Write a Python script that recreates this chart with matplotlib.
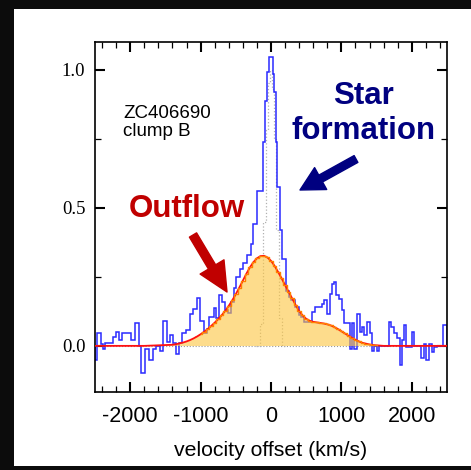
import numpy as np
import matplotlib
matplotlib.use("Agg")
import matplotlib.pyplot as plt
from matplotlib.patches import Rectangle
from matplotlib.ticker import MultipleLocator

plt.rcParams['font.family'] = ['Liberation Sans', 'DejaVu Sans']
plt.rcParams['axes.unicode_minus'] = False

# observed spectrum: left bin edges (km/s) and flux, last edge closes the range
spec_edges = [-2500, -2466, -2419, -2381, -2352, -2248, -2200, -2153, -2115, -1992,
              -1935, -1878, -1840, -1793, -1727, -1670, -1632, -1575, -1537, -1480,
              -1433, -1395, -1348, -1310, -1262, -1205, -1148, -1101, -1053, -1006,
              -958, -910, -887, -816, -778, -745, -697, -650, -610, -570,
              -531, -493, -446, -399, -342, -290, -250, -205, -119, -81,
              -57, -33, 24, 38, 71, 85, 123, 160, 218, 251,
              284, 346, 393, 430, 464, 583, 630, 725, 758, 796,
              843, 867, 891, 929, 962, 1009, 1043, 1118, 1151, 1185,
              1223, 1260, 1294, 1327, 1365, 1403, 1436, 1469, 1507, 1540,
              1672, 1706, 1744, 1792, 1830, 1863, 1896, 1924, 2005, 2038,
              2124, 2171, 2200, 2240, 2289, 2320, 2360, 2440, 2500]
spec_flux = [-0.05, 0.047, 0.006, -0.013, 0.009, 0.033, 0.05, 0.021, 0.045, 0.021,
             0.081, 0.0, -0.097, -0.013, -0.052, -0.013, 0.0, -0.02, 0.09, 0.015,
             0.039, 0.009, -0.028, 0.009, 0.047, 0.057, 0.117, 0.135, 0.175, 0.09,
             0.047, 0.06, 0.105, 0.137, 0.10, 0.183, 0.16, 0.13, 0.12, 0.16,
             0.21, 0.25, 0.28, 0.30, 0.33, 0.37, 0.44, 0.56, 0.737, 0.888,
             0.99, 1.047, 0.984, 0.918, 0.737, 0.575, 0.42, 0.315, 0.20, 0.178,
             0.165, 0.14, 0.11, 0.105, 0.087, 0.123, 0.141, 0.15, 0.165, 0.117,
             0.189, 0.225, 0.231, 0.183, 0.171, 0.129, 0.081, -0.01, 0.081, -0.01,
             0.117, 0.05, 0.07, 0.04, 0.087, 0.045, -0.02, 0.0, -0.02, 0.0,
             0.087, 0.069, 0.045, 0.027, -0.07, 0.02, 0.075, -0.004, 0.05, 0.0,
             -0.045, 0.008, -0.05, 0.005, -0.021, -0.004, 0.0, 0.075]

# broad (outflow) component
broad_v = [-1800, -1400, -1350, -1300, -1250, -1200, -1150, -1100, -1050, -1000,
           -950, -900, -850, -800, -750, -700, -650, -600, -550, -500,
           -450, -400, -350, -300, -250, -200, -150, -100, -50, 0,
           50, 100, 150, 200, 250, 300, 350, 400, 450, 500,
           550, 600, 650, 700, 750, 800, 850, 900, 950, 1000,
           1050, 1100, 1150, 1200, 1250, 1300, 1350, 1400, 1450, 1500,
           1550, 1600, 1700]
broad_flux = [0.0, 0.004, 0.006, 0.009, 0.012, 0.016, 0.021, 0.027, 0.034, 0.042,
              0.051, 0.061, 0.072, 0.084, 0.097, 0.111, 0.127, 0.145, 0.165, 0.187,
              0.211, 0.236, 0.261, 0.284, 0.303, 0.317, 0.325, 0.326, 0.320, 0.308,
              0.290, 0.268, 0.245, 0.220, 0.196, 0.172, 0.148, 0.126, 0.110, 0.098,
              0.091, 0.087, 0.085, 0.083, 0.081, 0.078, 0.074, 0.068, 0.061, 0.053,
              0.045, 0.037, 0.029, 0.022, 0.016, 0.011, 0.008, 0.005, 0.003, 0.002,
              0.001, 0.0, 0.0]

# narrow (star formation) component
narrow_v = [-210, -170, -130, -95, -60, -30, 0, 30, 60, 95, 130, 170, 210]
narrow_flux = [0.0, 0.0, 0.08, 0.45, 0.78, 0.95, 1.0, 0.93, 0.75, 0.42, 0.10, 0.0, 0.0]

fig = plt.figure(figsize=(4.71, 4.70), dpi=100, facecolor='#0c0c0c')
fig.patches.append(Rectangle((14 / 471, 4 / 470), 457 / 471, 457 / 470,
                             transform=fig.transFigure, facecolor='white',
                             edgecolor='none', zorder=-5))

ax = fig.add_axes([95 / 471, 78 / 470, 352 / 471, 350 / 470])
ax.set_zorder(2)

ax.stairs(spec_flux, spec_edges, color='#2a2aff', lw=1.1, zorder=2)
ax.axhline(0, color='#9a9a9a', ls=':', lw=0.8, zorder=1)
ax.step(narrow_v, narrow_flux, where='mid', color='#b0b0b0', ls=':', lw=0.9, zorder=1)
ax.fill_between(broad_v, 0, broad_flux, step='mid', color='#fcc640', alpha=0.6,
                lw=0, zorder=3)

bv = np.array(broad_v)
bf = np.array(broad_flux)
ax.plot([-2500] + broad_v + [2500], [0.0] + broad_flux + [0.0], color='#ff1010',
        lw=1.3, zorder=4)
m = (bv >= -1000) & (bv <= 1500)
ax.step(bv[m], bf[m], where='mid', color='#ff8000', lw=1.0, zorder=5)

ax.set_xlim(-2500, 2500)
ax.set_ylim(-0.167, 1.1)
ax.set_xticks([-2000, -1000, 0, 1000, 2000])
ax.set_yticks([0.0, 0.5, 1.0])
ax.set_yticklabels(['0.0', '0.5', '1.0'], family='Liberation Serif', fontsize=13.5)
ax.xaxis.set_minor_locator(MultipleLocator(200))
ax.yaxis.set_minor_locator(MultipleLocator(0.25))
ax.tick_params(which='both', direction='in', top=True, right=True)
ax.tick_params(which='major', length=7, width=1.5)
ax.tick_params(which='minor', length=4, width=0.9)
ax.tick_params(axis='x', labelsize=15.5, pad=10)
ax.tick_params(axis='y', pad=7)
for s in ax.spines.values():
    s.set_linewidth(1.2)
ax.set_xlabel('velocity offset (km/s)', fontsize=15.3, labelpad=10)

fig.text(123 / 471, 1 - 105 / 470, 'ZC406690\nclump B', fontsize=13.5,
         va='top', ha='left', linespacing=1.1, zorder=5)
fig.text(364 / 471, 1 - 81 / 470, 'Star\nformation', fontsize=22.5, fontweight='bold',
         color='#000080', ha='center', va='top', linespacing=1.2, zorder=5)
fig.text(187 / 471, 1 - 217 / 470, 'Outflow', fontsize=22.5, fontweight='bold',
         color='#c00000', ha='center', va='baseline', zorder=5)

ax.annotate('', xy=(227, 470 - 292), xytext=(193, 470 - 235), xycoords='figure pixels',
            textcoords='figure pixels',
            arrowprops=dict(arrowstyle='simple,head_width=1.0,head_length=1.05,tail_width=0.3',
                            mutation_scale=20, color='#c00000', shrinkA=0, shrinkB=0))
ax.annotate('', xy=(300, 470 - 190), xytext=(356, 470 - 159), xycoords='figure pixels',
            textcoords='figure pixels',
            arrowprops=dict(arrowstyle='simple,head_width=0.9,head_length=0.85,tail_width=0.28',
                            mutation_scale=20, color='#000080', shrinkA=0, shrinkB=0))

fig.savefig('out.png', dpi=100, facecolor=fig.get_facecolor())
